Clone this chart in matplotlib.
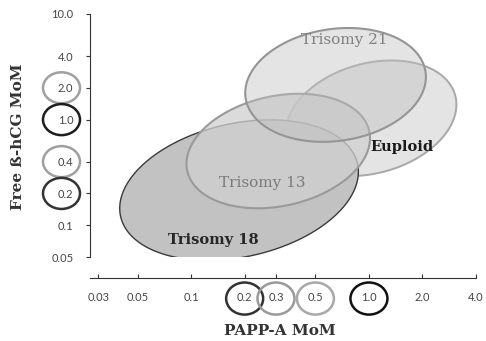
import numpy as np
import matplotlib
matplotlib.use("Agg")
import matplotlib.pyplot as plt
from matplotlib.patches import Polygon, Ellipse

# ---------------- data ----------------
x_tick_values = [0.03, 0.05, 0.1, 0.2, 0.3, 0.5, 1.0, 2.0, 4.0]
x_tick_labels = ["0.03", "0.05", "0.1", "0.2", "0.3", "0.5", "1.0", "2.0", "4.0"]
y_tick_values = [10.0, 4.0, 2.0, 1.0, 0.4, 0.2, 0.1, 0.05]
y_tick_labels = ["10.0", "4.0", "2.0", "1.0", "0.4", "0.2", "0.1", "0.05"]

groups = ["Euploid", "Trisomy 18", "Trisomy 13", "Trisomy 21"]
center_papp = [1.03, 0.186, 0.309, 0.649]     # PAPP-A MoM
center_hcg = [1.03, 0.215, 0.504, 2.13]       # free beta-hCG MoM
sd_papp = [0.479, 0.671, 0.516, 0.508]        # log10 spread
sd_hcg = [0.547, 0.665, 0.542, 0.539]         # log10 spread
rho = [0.237, 0.26, 0.223, 0.141]             # correlation

x_highlight = [0.2, 0.3, 0.5, 1.0]
y_highlight = [2.0, 1.0, 0.4, 0.2]

# ---------------- styles ----------------
face = [(0.895, 0.895, 0.895, 1.0), (0.76, 0.76, 0.76, 1.0),
        (0.815, 0.815, 0.815, 0.75), (0.75, 0.75, 0.75, 0.42)]
edge = ["#a8a8a8", "#3a3a3a", "#9a9a9a", "#959595"]
lws = [1.4, 1.0, 1.5, 1.5]
label_pos = [(0.808, 0.453), (0.319, 0.070), (0.446, 0.305), (0.660, 0.893)]
label_col = ["#1a1a1a", "#262626", "#7a7a7a", "#808080"]
label_weight = ["bold", "bold", "normal", "normal"]
label_size = [10.5, 10.5, 11, 11]
x_hl_col = ["#333333", "#9a9a9a", "#a8a8a8", "#111111"]
y_hl_col = ["#a0a0a0", "#1e1e1e", "#a0a0a0", "#333333"]

W, H = 486, 341
fig = plt.figure(figsize=(W / 100, H / 100), dpi=100)
ax_w = 386
ax = fig.add_axes([90 / W, (H - 257) / H, ax_w / W, 243 / H])

ax.set_xlim(np.log10(0.027), np.log10(4.0))
ax.set_ylim(np.log10(0.05), np.log10(10.0))

t = np.linspace(0, 2 * np.pi, 300)
for i, g in enumerate(groups):
    cov = np.array([[sd_papp[i] ** 2, rho[i] * sd_papp[i] * sd_hcg[i]],
                    [rho[i] * sd_papp[i] * sd_hcg[i], sd_hcg[i] ** 2]])
    L = np.linalg.cholesky(cov)
    pts = (L @ np.vstack([np.cos(t), np.sin(t)])).T
    pts[:, 0] += np.log10(center_papp[i])
    pts[:, 1] += np.log10(center_hcg[i])
    ax.add_patch(Polygon(pts, closed=True, facecolor=face[i],
                         edgecolor=edge[i], linewidth=lws[i], zorder=2 + i))
    ax.text(label_pos[i][0], label_pos[i][1], g, transform=ax.transAxes,
            ha="center", va="center", fontsize=label_size[i],
            fontweight=label_weight[i], color=label_col[i],
            family="DejaVu Serif", zorder=10)

# axes styling
for s in ["top", "right"]:
    ax.spines[s].set_visible(False)
ax.spines["bottom"].set_position(("outward", 15))
for s in ["left", "bottom"]:
    ax.spines[s].set_color("#333333")
    ax.spines[s].set_linewidth(0.8)

ax.set_xticks(np.log10(x_tick_values))
ax.set_xticklabels(x_tick_labels)
ax.set_yticks(np.log10(y_tick_values))
ax.set_yticklabels(y_tick_labels)
ax.tick_params(axis="x", direction="in", length=3, width=0.8, color="#333333",
               pad=10.5, labelsize=8, labelcolor="#444444")
ax.tick_params(axis="y", direction="out", length=3, width=0.8, color="#333333",
               pad=9, labelsize=8, labelcolor="#444444")
for lab in ax.get_xticklabels() + ax.get_yticklabels():
    lab.set_family("Lato")

# highlight circles around tick labels
for v, c in zip(x_highlight, x_hl_col):
    ax.add_patch(Ellipse((np.log10(v), -0.171), 0.206 * 390 / ax_w, 0.132,
                         transform=ax.get_xaxis_transform(), fill=False,
                         edgecolor=c, linewidth=1.8, clip_on=False))
for v, c in zip(y_highlight, y_hl_col):
    ax.add_patch(Ellipse((-0.0731 * 390 / ax_w, np.log10(v)),
                         0.0949 * 390 / ax_w, 0.294,
                         transform=ax.get_yaxis_transform(), fill=False,
                         edgecolor=c, linewidth=1.8, clip_on=False))

fig.text(280 / W, 1 - 331 / H, "PAPP-A MoM", ha="center", va="center",
         fontsize=11, fontweight="bold", family="DejaVu Serif", color="#333333")
fig.text(18 / W, 1 - 137 / H, "Free ß-hCG MoM", ha="center", va="center",
         rotation=90, fontsize=11, fontweight="bold", family="DejaVu Serif",
         color="#333333")

fig.savefig("out.png", dpi=100)
